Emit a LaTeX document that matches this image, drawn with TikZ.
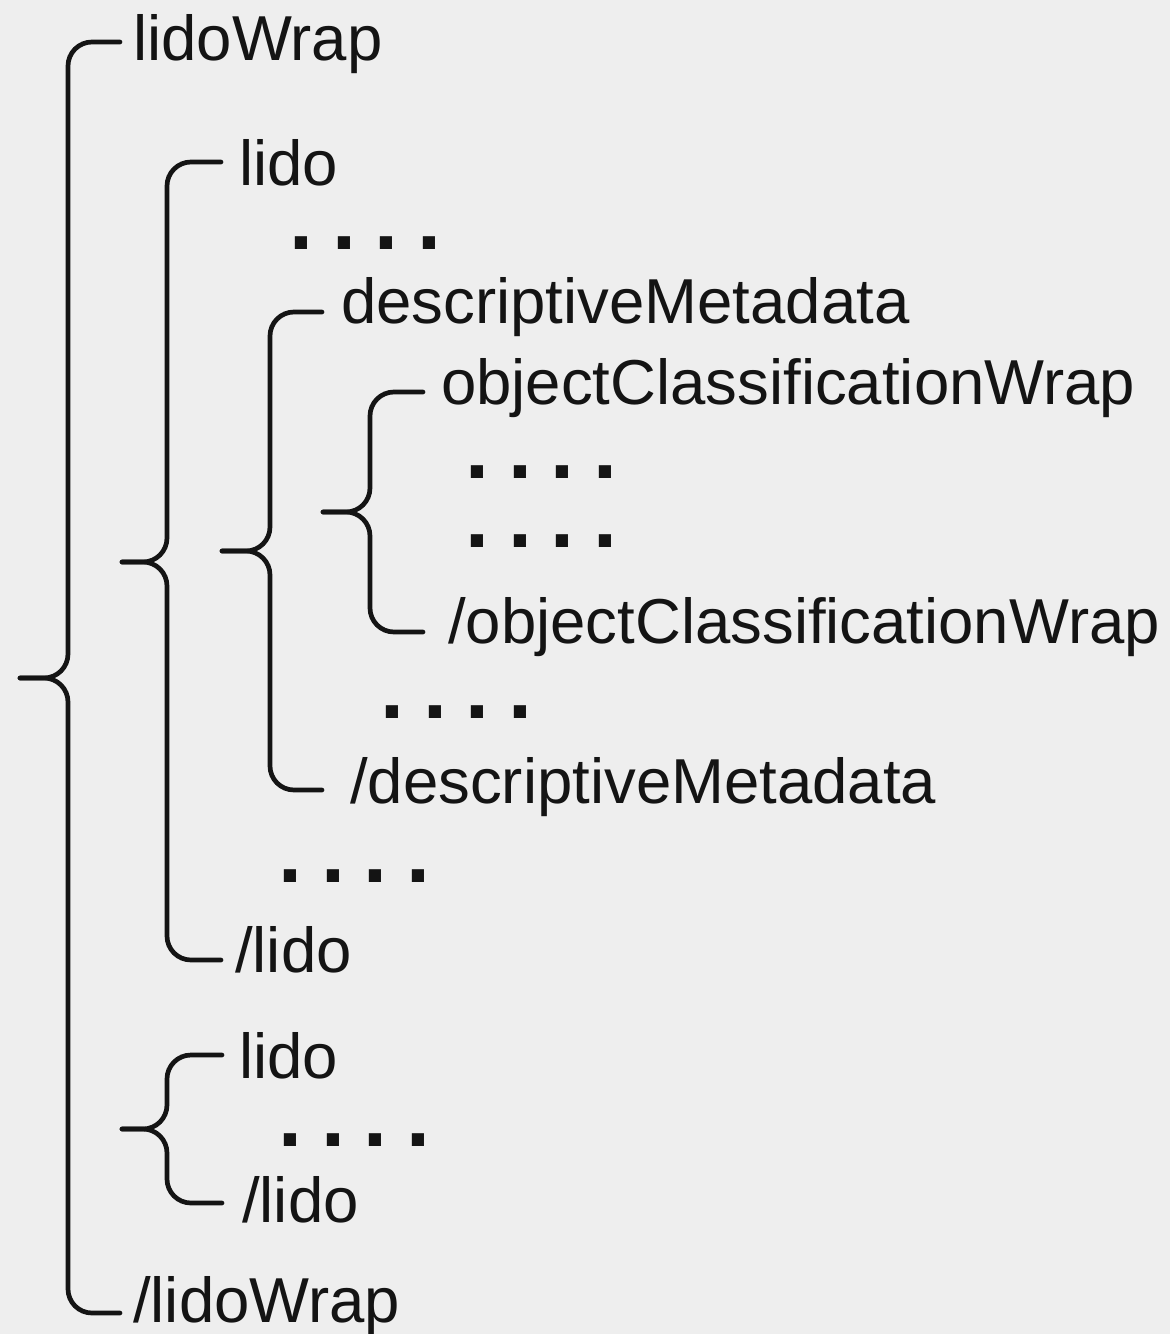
\documentclass[tikz,border=0pt]{standalone}
\usepackage{fontspec}
\setmainfont{Liberation Sans}
\definecolor{bgc}{HTML}{EEEEEE}
\definecolor{ink}{HTML}{141414}
\tikzset{
  lbl/.style={anchor=base west, inner sep=0pt, text=ink, font=\fontsize{63.5}{75}\selectfont},
  dotrow/.style={anchor=base west, inner sep=0pt, text=ink, font=\fontsize{86}{100}\selectfont\bfseries},
  bracel/.style={draw=ink, line width=4.7pt, rounded corners=24pt, line cap=round}
}
\newcommand\mybrace[6]{%
  \draw[bracel] (#2,#4) -| (#1,#5) -- (#3,#5);
  \draw[bracel] (#3,#5) -- (#1,#5) |- (#2,#6);
}
\newcommand\dotstext{.\kern19pt.\kern19pt.\kern19pt.}
\begin{document}
\begin{tikzpicture}[x=1pt,y=-1pt]
\fill[bgc] (0,0) rectangle (1170,1334);
\useasboundingbox (0,0) rectangle (1170,1334);
% texts
\node[lbl] (t1) at (133,60) {lidoWrap};
\node[lbl] (t2) at (239,185) {lido};
\node[dotrow] (d1) at (289,249) {\dotstext};
\node[lbl] (t3) at (341,323) {descriptiveMetadata};
\node[lbl] (t4) at (441,404) {objectClassificationWrap};
\node[dotrow] (d2) at (465,478) {\dotstext};
\node[dotrow] (d3) at (465,547) {\dotstext};
\node[lbl] (t5) at (448,643) {/objectClassificationWrap};
\node[dotrow] (d4) at (380,718) {\dotstext};
\node[lbl] (t6) at (350,803) {/descriptiveMetadata};
\node[dotrow] (d5) at (278,882) {\dotstext};
\node[lbl] (t7) at (235,972) {/lido};
\node[lbl] (t8) at (239,1078) {lido};
\node[dotrow] (d6) at (278,1146) {\dotstext};
\node[lbl] (t9) at (242,1222) {/lido};
\node[lbl] (t10) at (133,1322) {/lidoWrap};
% braces: xv, xe, xt, ytop, ymid, ybottom
\mybrace{68}{120}{20}{42}{678}{1313}
\mybrace{167}{221}{122}{162}{562}{960}
\mybrace{270}{322}{222}{312}{551}{790}
\mybrace{370}{423}{323}{392}{512}{632}
\mybrace{167}{222}{122}{1055}{1129}{1203}
\end{tikzpicture}
\end{document}
